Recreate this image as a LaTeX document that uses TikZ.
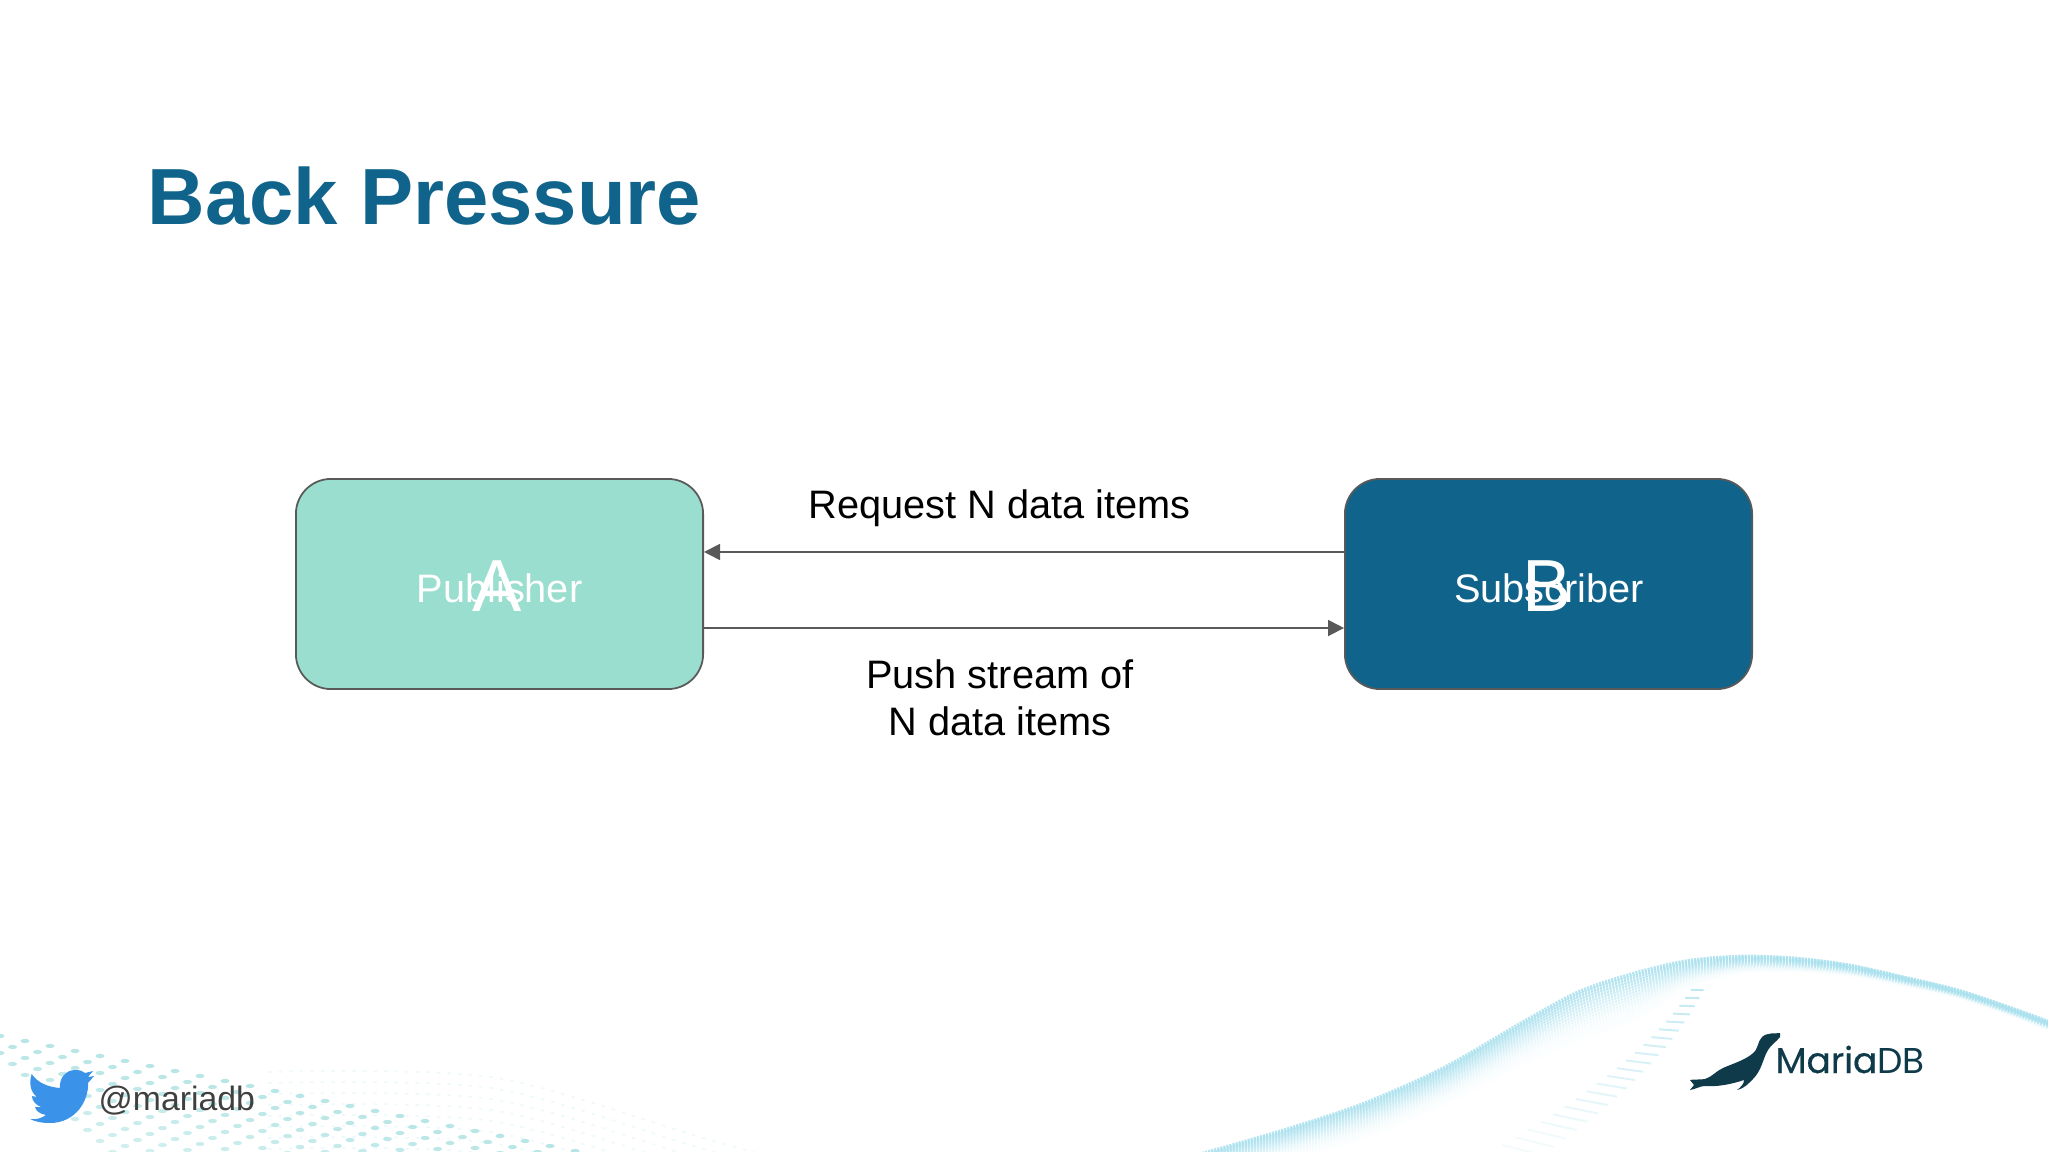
\documentclass[tikz,border=0pt]{standalone}
\usepackage{fontspec}
\setmainfont{Liberation Sans}
\newfontfamily\logofont{Poppins}
\newfontfamily\logofontheavy[FakeBold=0.5]{Poppins}
\usetikzlibrary{positioning,arrows.meta}
\definecolor{titleblue}{HTML}{10648B}
\definecolor{pubgreen}{HTML}{99DECE}
\definecolor{edgegrey}{HTML}{595959}
\definecolor{waveblue}{HTML}{ACE1EE}
\definecolor{dotgreen}{HTML}{B4E4E4}
\definecolor{birdblue}{HTML}{3A93E8}
\definecolor{sealdark}{HTML}{0E3A49}
\tikzset{
    actor/.style={draw=edgegrey, line width=0.5pt, rounded corners=.35cm, minimum width=4.07cm, minimum height=2.1cm, inner sep=0pt},
    boxtext/.style={text=white, anchor=base, inner sep=0pt, font=\fontsize{11.3}{13.3}\selectfont},
    boxletter/.style={text=white, anchor=base, inner sep=0pt, font=\fontsize{21}{24}\selectfont},
    flowlabel/.style={text=black, align=center, inner sep=0pt, font=\fontsize{11.3}{13.2}\selectfont},
    flow/.style={draw=edgegrey, line width=0.5pt, -{Triangle[length=.16cm,width=.16cm]}},
}

\begin{document}
\begin{tikzpicture}[x=0.01cm,y=-0.01cm]
    \useasboundingbox (0,0) rectangle (2048,1152);

    %% dotted wave, bottom left
    \begin{scope}
    \clip (0,0) rectangle (2048,1152);
    \foreach \k in {0,...,13}{
        \foreach \i in {0,...,28}{
            \fill[dotgreen, opacity={0.95-0.035*\k}] ({\i*25+\k*12.5-25},{1036+0.2*(\i*25+\k*12.5-25)+\k*8.5}) ellipse (4.5 and 2.2);
        }
    }
    \foreach \k in {0,...,7}{
        \draw[waveblue, opacity=.2, line width=.5pt, dash pattern=on 1pt off 2pt]
            plot[smooth] coordinates {(268,{1072+\k*11}) (491,{1077+\k*11}) (700,{1137+\k*11}) (800,{1165+\k*11})};
    }

    %% ribbon, bottom right
    \foreach \f in {1,0.94,...,0}{
        \draw[waveblue, opacity={0.95*(1-\f)*(1-\f)+0.03}, line width=1.1pt, dash pattern=on .6pt off .3pt]
            plot[smooth] coordinates {
                (1190,{1156+30*\f}) (1281,{1130+30*\f}) (1362,{1103+35*\f}) (1443,{1067+37*\f})
                (1524,{1020+43*\f}) (1579,{990+50*\f}) (1633,{972+48*\f}) (1687,{960+28*\f})
                (1741,{956+16*\f}) (1795,{958+13*\f}) (1849,{965+10*\f}) (1903,{977+8*\f})
                (1957,{990+7*\f}) (2011,{1008+7*\f}) (2055,{1024+8*\f})};
    }
    \foreach \d in {5,13,...,173}{
        \pgfmathsetmacro\midx{1700-0.55*\d-0.0032*\d*\d}
        \pgfmathsetmacro\half{6+0.085*\d}
        \pgfmathsetmacro\tilt{0.0016*\d*\half}
        \pgfmathsetmacro\fade{max(0.12,0.8-0.0042*\d)}
        \draw[waveblue, opacity=\fade, line width=.55pt]
            ({\midx-\half},{985+\d-\tilt}) -- ({\midx+\half},{985+\d+\tilt});
    }
    \end{scope}

    %% title
    \node[text=titleblue, anchor=base west, inner sep=0pt, font=\fontsize{22.65}{26}\selectfont\bfseries] (backpressure) at (147,224.5) {Back Pressure};

    %% boxes
    \node[actor, fill=pubgreen] (publisher) at (499.5,584) {};
    \node[actor, fill=titleblue] (subscriber) at (1548.5,584) {};
    \node[boxtext] (pubname) at (499.5,603) {Publisher};
    \node[boxletter] (publetter) at (497,612) {A};
    \node[boxtext] (subname) at (1549,603) {Subscriber};
    \node[boxletter] (subletter) at (1547,612) {B};

    %% arrows
    \draw[flow] ([yshift=.32cm]subscriber.west) -- ([yshift=.32cm]publisher.east);
    \draw[flow] ([yshift=-.44cm]publisher.east) -- ([yshift=-.44cm]subscriber.west);
    \node[flowlabel, anchor=base] (request) at (999.5,519) {Request N data items};
    \node[flowlabel] (push) at (1000,698) {Push stream of\\N data items};

    %% twitter handle
    \fill[birdblue] (31.7,1074) .. controls (38,1083) and (48,1087) .. (60,1088)
        .. controls (59,1078) and (66,1070) .. (75,1070)
        .. controls (80,1070) and (83,1071) .. (85,1073)
        -- (93,1071) -- (88,1077) -- (94,1076) -- (88,1083)
        .. controls (89,1100) and (76,1123) .. (50,1123)
        .. controls (42,1123) and (36,1122) .. (30,1119)
        .. controls (36,1120) and (42,1118) .. (46,1115)
        .. controls (40,1114) and (36,1111) .. (35,1107)
        -- (41,1107)
        .. controls (36,1105) and (32,1101) .. (32,1096)
        -- (37,1097)
        .. controls (30,1092) and (29,1082) .. (31.7,1074) -- cycle;
    \node[text=black!75, anchor=base west, inner sep=0pt, font=\fontsize{9.6}{11}\selectfont] (handle) at (98,1110) {@mariadb};

    %% logo
    \fill[sealdark] (1780,1033) .. controls (1774,1034) and (1768,1032) .. (1762,1037)
        .. controls (1757,1042) and (1759,1049) .. (1752,1054)
        .. controls (1745,1060) and (1732,1064) .. (1723,1068)
        .. controls (1716,1071) and (1712,1077) .. (1705,1079)
        .. controls (1700,1080) and (1695,1079) .. (1690,1080)
        -- (1694,1085) -- (1690,1090)
        .. controls (1696,1089) and (1700,1086) .. (1705,1086)
        .. controls (1718,1087) and (1732,1084) .. (1744,1080)
        .. controls (1744,1084) and (1741,1087) .. (1737,1090)
        .. controls (1744,1089) and (1750,1082) .. (1753,1079)
        .. controls (1762,1070) and (1763,1058) .. (1768,1050)
        .. controls (1771,1045) and (1776,1042) .. (1780,1037) -- cycle;
    \node[text=sealdark, anchor=base west, inner sep=0pt, font=\fontsize{10.2}{11}\selectfont\logofont] (logoname) at (1775,1073) {{\logofontheavy Maria}DB};
\end{tikzpicture}
\end{document}
